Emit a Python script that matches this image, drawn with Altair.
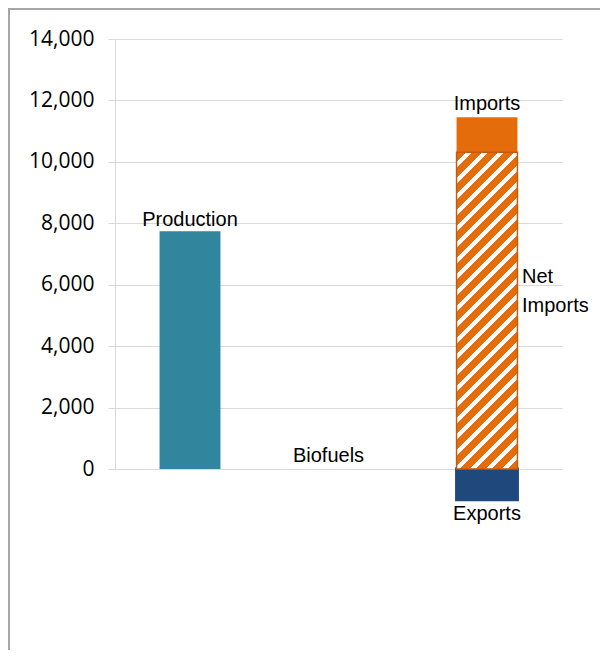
import altair as alt
import pandas as pd

# ---- data ----
categories = ["Production", "Biofuels", "Imports"]
segments = ["Production", "Biofuels", "Net Imports", "Imports", "Exports"]
seg_category = ["Production", "Biofuels", "Imports", "Imports", "Imports"]
production = 7740
biofuels = 0
net_imports = 10315
gross_imports = 11450
exports = -1000
seg_start = [0, 0, 0, net_imports, exports]
seg_end = [production, biofuels, net_imports, gross_imports, 0]
y_ticks = [0, 2000, 4000, 6000, 8000, 10000, 12000, 14000]
label_texts = ["Production", "Biofuels", "Imports", "Net\nImports", "Exports"]

W, H = 447, 430
YMAX = 14000
PAD = {"left": 107, "top": 31, "right": 38, "bottom": 181}

TEAL = "#31859C"
ORANGE = "#E46C0A"
NAVY = "#1F497D"
HATCH_STROKE = "#C55A11"
GRID = "#D9D9D9"
LABEL_FONT = "Liberation Sans Narrow, Arial Narrow, Liberation Sans, sans-serif"
LABEL_SIZE = 20
TICK_FONT = "Open Sans"

df = pd.DataFrame({"segment": segments, "category": seg_category,
                   "start": seg_start, "end": seg_end})

pad_inner, pad_outer = 0.59, 0.30
x_enc = alt.X("category:N", sort=categories,
              scale=alt.Scale(domain=categories, paddingInner=pad_inner, paddingOuter=pad_outer),
              axis=None)
y_scale = alt.Scale(domain=[0, YMAX], nice=False, zero=False)


def y_axis():
    return alt.Axis(values=y_ticks, format=",.0f", grid=True, title=None,
                    labelFont=TICK_FONT, labelFontSize=21, labelColor="#000000",
                    labelPadding=14, tickSize=7, tickColor=GRID, domainColor=GRID,
                    gridColor=GRID, gridWidth=1)


# ---- hatch pattern as a hard-stop linear gradient (style only) ----
step = W / (len(categories) - pad_inner + 2 * pad_outer)
bar_w = step * (1 - pad_inner)
bar_h = net_imports * H / YMAX
r = bar_w / bar_h
gy2 = (r + 1) / (r * r + 1)
gx2 = r * gy2
period = 16.0 / (bar_w + bar_h)
stops = []
k = 0
while k * period < 1:
    a = k * period
    b = min(a + 0.64 * period, 1.0)
    c = min((k + 1) * period, 1.0)
    stops += [alt.GradientStop(color=ORANGE, offset=a),
              alt.GradientStop(color=ORANGE, offset=b),
              alt.GradientStop(color="#FFFFFF", offset=b),
              alt.GradientStop(color="#FFFFFF", offset=c)]
    k += 1
hatch = alt.Gradient(gradient="linear", stops=stops, x1=0, y1=0, x2=gx2, y2=gy2)

base = alt.Chart(df).encode(
    x=x_enc,
    y=alt.Y("start:Q", scale=y_scale, title=None, axis=y_axis()),
    y2="end:Q",
)

solid = base.transform_filter(
    alt.FieldOneOfPredicate(field="segment", oneOf=["Production", "Imports", "Exports", "Biofuels"])
).mark_bar(strokeWidth=0).encode(
    color=alt.Color("segment:N",
                    scale=alt.Scale(domain=["Production", "Biofuels", "Imports", "Exports"],
                                    range=[TEAL, TEAL, ORANGE, NAVY]),
                    legend=None)
)

exports_edge = base.transform_filter(alt.datum.segment == "Exports").mark_bar(
    fill=NAVY, stroke=NAVY, strokeWidth=3)

hatched = base.transform_filter(alt.datum.segment == "Net Imports").mark_bar(
    fill=hatch, stroke=HATCH_STROKE, strokeWidth=1.5)


def label(cat, yval, txt, **kw):
    d = pd.DataFrame({"category": [cat], "start": [yval], "text": [txt]})
    return alt.Chart(d).mark_text(font=LABEL_FONT, fontSize=LABEL_SIZE, color="#000000",
                                  lineBreak="\n", **kw).encode(
        x=x_enc, y=alt.Y("start:Q", scale=y_scale, title=None, axis=y_axis()),
        text="text:N")


labels = [
    label("Production", production, label_texts[0], baseline="alphabetic", dy=-5),
    label("Biofuels", biofuels, label_texts[1], baseline="alphabetic", dy=-7, dx=-10),
    label("Imports", gross_imports, label_texts[2], baseline="alphabetic", dy=-7.5),
    label("Imports", net_imports / 2, label_texts[3], baseline="top", align="left",
          dx=35, dy=-44, lineHeight=29.5),
    label("Imports", exports, label_texts[4], baseline="top", dy=4.5),
]

frame_src = pd.DataFrame({"k": [0]})
frame_left = alt.Chart(frame_src).mark_rule(color="#A6A6A6", strokeWidth=2).encode(
    x=alt.value(-PAD["left"] + 1), y=alt.value(-PAD["top"]), y2=alt.value(H + PAD["bottom"]))
frame_top = alt.Chart(frame_src).mark_rule(color="#A6A6A6", strokeWidth=2).encode(
    y=alt.value(-PAD["top"] + 1), x=alt.value(-PAD["left"]), x2=alt.value(W + PAD["right"]))

chart = alt.layer(solid, exports_edge, hatched, *labels, frame_left, frame_top).properties(
    width=W, height=H,
    autosize=alt.AutoSizeParams(type="none"),
    padding=PAD,
    background="#FFFFFF",
).configure_view(stroke=None)

chart.save("out.html", embed_options={"renderer": "svg", "actions": False})
